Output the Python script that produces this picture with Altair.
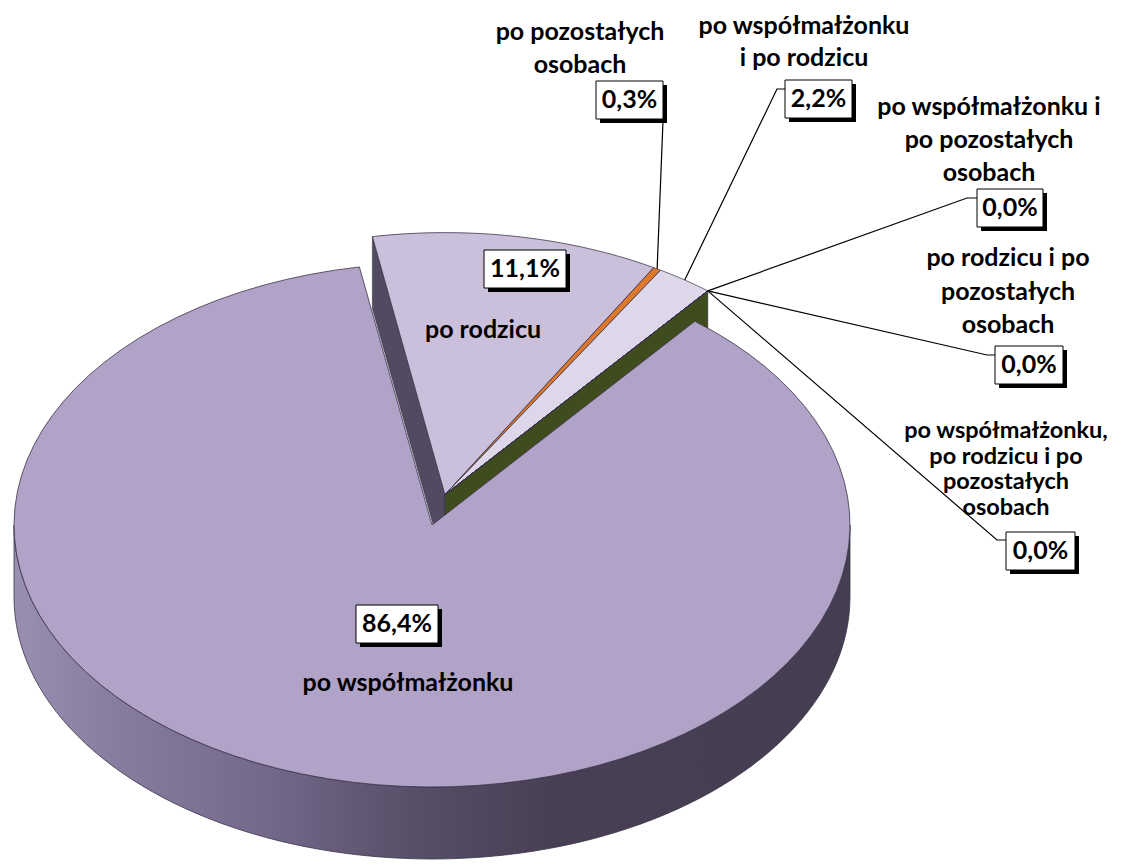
import altair as alt
import pandas as pd

# ---------------- data ----------------
categories = [
    "po rodzicu",
    "po pozostałych osobach",
    "po współmałżonku i po rodzicu",
    "po współmałżonku i po pozostałych osobach",
    "po rodzicu i po pozostałych osobach",
    "po współmałżonku, po rodzicu i po pozostałych osobach",
    "po współmałżonku",
]
values = [11.1, 0.3, 2.2, 0.0, 0.0, 0.0, 86.4]
pct_labels = ["11,1%", "0,3%", "2,2%", "0,0%", "0,0%", "0,0%", "86,4%"]
name_lines = [
    ["po rodzicu"],
    ["po pozostałych", "osobach"],
    ["po współmałżonku", "i po rodzicu"],
    ["po współmałżonku i", "po pozostałych", "osobach"],
    ["po rodzicu i po", "pozostałych", "osobach"],
    ["po współmałżonku,", "po rodzicu i po", "pozostałych", "osobach"],
    ["po współmałżonku"],
]

# ---------------- styles ----------------
top_colors = ["#cbc0dc", "#e0782c", "#ddd7e9", "#55662a", "#4a5a24", "#3e4c1e", "#b1a2c8"]
OUTLINE = "#3a3348"
face_colors = ["#524a60", "#3e4c1e"]

# ---------------- layout (page pixel coordinates) ----------------
name_x = [483, 580, 804, 989, 1008, 1006, 408]
name_y = [330, 32, 26, 107, 258, 431, 683]
name_lh = [0, 33, 32, 33, 33.5, 25.5, 0]
name_fs = [25, 25, 25, 25, 25, 23.5, 25]
box_cx = [525, 629.5, 818.5, 1010, 1029, 1040.5, 397]
box_cy = [269, 100, 99, 208, 365, 551, 624]
box_w = [82, 67, 67, 66, 68, 69, 82]
BOX_H = 38
SHADOW = 4
elbow_x = [None, 663, 777, 967, 987, 997, None]
elbow_y = [None, 121, 89, 198, 355, 540, None]
attach_x = [None, 663, 785, 977, 995, 1006, None]
attach_y = [None, 121, 89, 198, 355, 540, None]

CX, CY, A, B, DEPTH = 432, 525, 418, 262, 72
START = -10       # degrees, clockwise from 12 o'clock
EXPL = 0.12       # explosion of the small-slice group (fraction of radius)
EXPL_DIR = 15     # degrees, direction of the explosion
BIG = 6
N = 90
FONT = "Lato"
FS = 25

df = pd.DataFrame({
    "cat": categories,
    "value": values,
    "idx": list(range(len(categories))),
    "elbow_x": elbow_x, "elbow_y": elbow_y,
    "attach_x": attach_x, "attach_y": attach_y,
})

xs = alt.Scale(domain=[8, 1116], nice=False, zero=False)
ys = alt.Scale(domain=[8, 860], nice=False, zero=False, reverse=True)


def X(f):
    return alt.X(f, type="quantitative", scale=xs, axis=None)


def Y(f):
    return alt.Y(f, type="quantitative", scale=ys, axis=None)


def geo():
    return (
        alt.Chart(df)
        .transform_joinaggregate(total="sum(value)")
        .transform_window(cum="sum(value)", sort=[alt.SortField("idx", order="ascending")],
                          frame=[None, 0])
        .transform_calculate(
            t0=f"({START} + 360 * (datum.cum - datum.value) / datum.total) * PI / 180",
            t1=f"({START} + 360 * datum.cum / datum.total) * PI / 180",
        )
        .transform_calculate(
            tm="(datum.t0 + datum.t1) / 2",
            ex=f"datum.idx == {BIG} ? 0 : {EXPL}",
        )
        .transform_calculate(
            ox=f"{CX} + datum.ex * {A} * sin({EXPL_DIR} * PI / 180)",
            oy=f"{CY} - datum.ex * {B} * cos({EXPL_DIR} * PI / 180)",
        )
    )


color_scale = alt.Scale(domain=categories, range=top_colors)


def tops(filter_expr):
    return (
        geo()
        .transform_filter(filter_expr)
        .transform_calculate(steps=f"sequence(0, {N + 2})")
        .transform_flatten(["steps"])
        .transform_calculate(tt=f"datum.t0 + (datum.t1 - datum.t0) * (datum.steps - 1) / {N}")
        .transform_calculate(
            px=f"datum.steps == 0 ? datum.ox : datum.ox + {A} * sin(datum.tt)",
            py=f"datum.steps == 0 ? datum.oy : datum.oy - {B} * cos(datum.tt)",
        )
        .mark_line(filled=True, interpolate="linear-closed", stroke=OUTLINE, strokeWidth=0.8)
        .encode(
            x=X("px"), y=Y("py"),
            order=alt.Order("steps:Q"),
            detail="cat:N",
            color=alt.Color("cat:N", scale=color_scale, legend=None),
        )
    )


# cut faces of the exploded group
faces = (
    geo()
    .transform_filter("datum.idx == 0 || datum.idx == 5")
    .transform_calculate(te="datum.idx == 0 ? datum.t0 : datum.t1")
    .transform_calculate(steps="sequence(0, 4)")
    .transform_flatten(["steps"])
    .transform_calculate(
        r="(datum.steps == 1 || datum.steps == 2) ? 1 : 0",
        d=f"datum.steps >= 2 ? {DEPTH} : 0",
    )
    .transform_calculate(
        px=f"datum.ox + datum.r * {A} * sin(datum.te)",
        py=f"datum.oy - datum.r * {B} * cos(datum.te) + datum.d",
    )
    .mark_line(filled=True, interpolate="linear-closed", stroke=OUTLINE, strokeWidth=0.6)
    .encode(
        x=X("px"), y=Y("py"),
        order=alt.Order("steps:Q"),
        detail="cat:N",
        fill=alt.Fill("cat:N", scale=alt.Scale(domain=[categories[0], categories[5]],
                                               range=face_colors), legend=None),
    )
)

wall_gradient = alt.Gradient(
    gradient="linear", x1=0, x2=1, y1=0, y2=0,
    stops=[
        alt.GradientStop(color="#9a8fb1", offset=0.0),
        alt.GradientStop(color="#897d9f", offset=0.12),
        alt.GradientStop(color="#74698b", offset=0.3),
        alt.GradientStop(color="#574e67", offset=0.48),
        alt.GradientStop(color="#483f54", offset=0.65),
        alt.GradientStop(color="#453d50", offset=1.0),
    ],
)

wall = (
    geo()
    .transform_filter(f"datum.idx == {BIG}")
    .transform_calculate(u0="max(datum.t0, PI / 2)", u1="min(datum.t1, 3 * PI / 2)")
    .transform_calculate(steps=f"sequence(0, {2 * N + 2})")
    .transform_flatten(["steps"])
    .transform_calculate(k=f"datum.steps <= {N} ? datum.steps : {2 * N + 1} - datum.steps")
    .transform_calculate(tt=f"datum.u0 + (datum.u1 - datum.u0) * datum.k / {N}")
    .transform_calculate(
        px=f"datum.ox + {A} * sin(datum.tt)",
        py=f"datum.oy - {B} * cos(datum.tt) + (datum.steps > {N} ? {DEPTH} : 0)",
    )
    .mark_line(filled=True, interpolate="linear-closed", fill=wall_gradient,
               stroke=OUTLINE, strokeWidth=0.8)
    .encode(x=X("px"), y=Y("py"), order=alt.Order("steps:Q"), detail="cat:N")
)

leaders = (
    geo()
    .transform_filter("isValid(datum.elbow_x)")
    .transform_calculate(steps="sequence(0, 3)")
    .transform_flatten(["steps"])
    .transform_calculate(
        px=f"datum.steps == 0 ? datum.ox + {A} * sin(datum.tm) : (datum.steps == 1 ? datum.elbow_x : datum.attach_x)",
        py=f"datum.steps == 0 ? datum.oy - {B} * cos(datum.tm) : (datum.steps == 1 ? datum.elbow_y : datum.attach_y)",
    )
    .mark_line(color="black", strokeWidth=1.2)
    .encode(x=X("px"), y=Y("py"), order=alt.Order("steps:Q"), detail="cat:N")
)

# label boxes
box_df = pd.DataFrame({"cat": categories, "pct": pct_labels, "bx": box_cx, "by": box_cy, "bw": box_w})
boxes_base = alt.Chart(box_df).transform_calculate(
    x1="datum.bx - datum.bw / 2", x2="datum.bx + datum.bw / 2",
    y1=f"datum.by - {BOX_H} / 2", y2=f"datum.by + {BOX_H} / 2",
    sx1=f"datum.bx - datum.bw / 2 + {SHADOW}", sx2=f"datum.bx + datum.bw / 2 + {SHADOW}",
    sy1=f"datum.by - {BOX_H} / 2 + {SHADOW}", sy2=f"datum.by + {BOX_H} / 2 + {SHADOW}",
)
shadows = boxes_base.mark_rect(color="black").encode(
    x=X("sx1"), x2=alt.X2("sx2"), y=Y("sy1"), y2=alt.Y2("sy2"))
boxes = boxes_base.mark_rect(fill="white", stroke="black", strokeWidth=1).encode(
    x=X("x1"), x2=alt.X2("x2"), y=Y("y1"), y2=alt.Y2("y2"))
box_text = alt.Chart(box_df).mark_text(
    font=FONT, fontWeight="bold", fontSize=FS, align="center", baseline="middle", color="black"
).encode(x=X("bx"), y=Y("by"), text="pct:N")

rows = []
for i, lines in enumerate(name_lines):
    for j, s in enumerate(lines):
        rows.append({"cat": categories[i], "text": s, "fs": name_fs[i],
                     "tx": name_x[i], "ty": name_y[i] + j * name_lh[i]})
name_df = pd.DataFrame(rows)
names = alt.Chart(name_df).mark_text(
    font=FONT, fontWeight="bold", align="center", baseline="middle", color="black"
).encode(
    x=X("tx"), y=Y("ty"), text="text:N",
    size=alt.Size("fs:Q", scale=None, legend=None),
)

chart = alt.layer(
    faces,
    tops(f"datum.idx != {BIG}"),
    wall,
    tops(f"datum.idx == {BIG}"),
    leaders,
    shadows,
    boxes,
    box_text,
    names,
).resolve_scale(
    color="independent", fill="independent", size="independent"
).properties(
    width=1108, height=852, padding=0,
    autosize=alt.AutoSizeParams(type="none"),
    background="white",
).configure_view(stroke=None)

chart.save("out.html", embed_options={"renderer": "svg", "actions": False})
